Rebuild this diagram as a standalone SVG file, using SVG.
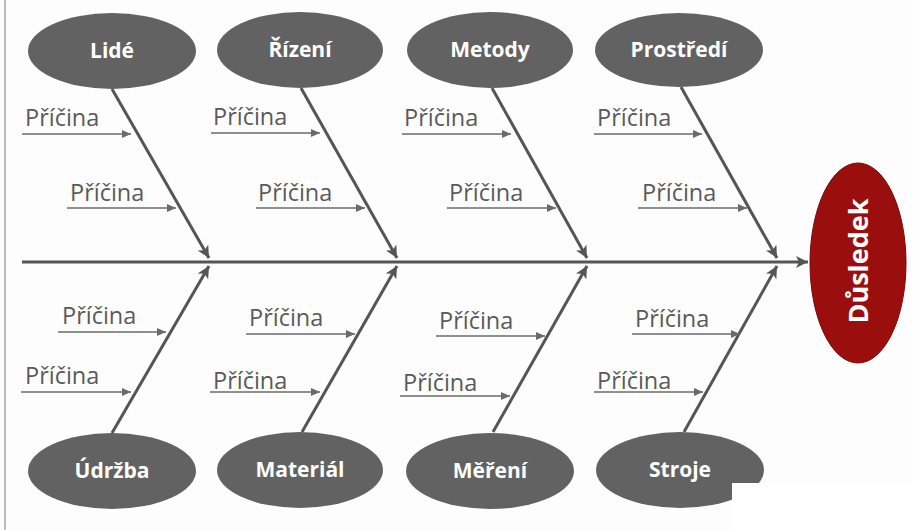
<svg xmlns="http://www.w3.org/2000/svg" width="913" height="530" viewBox="0 0 913 530">
  <defs>
    <style>
      .cat { fill: #626262; }
      .cat-label { fill: #ffffff; font-family: "Open Sans", "DejaVu Sans", sans-serif; font-weight: 700; font-size: 21px; text-anchor: middle; }
      .cause { fill: #5a5a5a; font-family: "Open Sans", "DejaVu Sans", sans-serif; font-size: 23.5px; }
      .bone { stroke: #555555; stroke-width: 3; fill: none; }
      .spine { stroke: #555555; stroke-width: 3; fill: none; }
      .twig { stroke: #6a6a6a; stroke-width: 1.5; fill: none; }
      .effect-label { fill: #ffffff; font-family: "Open Sans", "DejaVu Sans", sans-serif; font-weight: 700; font-size: 27px; text-anchor: middle; }
    </style>
    <marker id="head-bone" markerUnits="userSpaceOnUse" markerWidth="14" markerHeight="12" refX="12" refY="6" orient="auto">
      <path d="M0,0 L12,6 L0,12 L3,6 Z" fill="#555555"/>
    </marker>
    <marker id="head-twig" markerUnits="userSpaceOnUse" markerWidth="10" markerHeight="8" refX="9" refY="4" orient="auto">
      <path d="M0,0 L9,4 L0,8 Z" fill="#6a6a6a"/>
    </marker>
  </defs>

  <rect x="0" y="0" width="913" height="530" fill="#fdfdfd"/>
  <!-- left frame edge -->
  <line x1="5" y1="0" x2="5" y2="530" stroke="#bdbdbd" stroke-width="2"/>

  <!-- connectors: spine, bones and cause arrows -->
  <g id="connectors">
    <line class="spine" x1="22" y1="262" x2="808" y2="262" marker-end="url(#head-bone)"/>

    <line class="bone" x1="112" y1="89" x2="209" y2="258" marker-end="url(#head-bone)"/>
    <line class="bone" x1="301" y1="88" x2="397" y2="258" marker-end="url(#head-bone)"/>
    <line class="bone" x1="492" y1="88" x2="587" y2="258" marker-end="url(#head-bone)"/>
    <line class="bone" x1="681" y1="87" x2="777" y2="258" marker-end="url(#head-bone)"/>

    <line class="bone" x1="112" y1="433" x2="209" y2="266" marker-end="url(#head-bone)"/>
    <line class="bone" x1="302" y1="432" x2="397" y2="266" marker-end="url(#head-bone)"/>
    <line class="bone" x1="493" y1="432" x2="587" y2="266" marker-end="url(#head-bone)"/>
    <line class="bone" x1="684" y1="432" x2="777" y2="266" marker-end="url(#head-bone)"/>

    <!-- upper causes -->
    <line class="twig" x1="22" y1="134" x2="131" y2="134" marker-end="url(#head-twig)"/>
    <line class="twig" x1="67" y1="208" x2="176" y2="208" marker-end="url(#head-twig)"/>
    <line class="twig" x1="211" y1="133" x2="320" y2="133" marker-end="url(#head-twig)"/>
    <line class="twig" x1="256" y1="208" x2="365" y2="208" marker-end="url(#head-twig)"/>
    <line class="twig" x1="402" y1="134" x2="511" y2="134" marker-end="url(#head-twig)"/>
    <line class="twig" x1="447" y1="208" x2="556" y2="208" marker-end="url(#head-twig)"/>
    <line class="twig" x1="594" y1="134" x2="702" y2="134" marker-end="url(#head-twig)"/>
    <line class="twig" x1="638" y1="208" x2="747" y2="208" marker-end="url(#head-twig)"/>

    <!-- lower causes -->
    <line class="twig" x1="58" y1="332" x2="166" y2="332" marker-end="url(#head-twig)"/>
    <line class="twig" x1="21" y1="392" x2="131" y2="392" marker-end="url(#head-twig)"/>
    <line class="twig" x1="246" y1="334" x2="355" y2="334" marker-end="url(#head-twig)"/>
    <line class="twig" x1="210" y1="392" x2="320" y2="392" marker-end="url(#head-twig)"/>
    <line class="twig" x1="436" y1="336" x2="545" y2="336" marker-end="url(#head-twig)"/>
    <line class="twig" x1="400" y1="396" x2="510" y2="396" marker-end="url(#head-twig)"/>
    <line class="twig" x1="632" y1="334" x2="740" y2="334" marker-end="url(#head-twig)"/>
    <line class="twig" x1="594" y1="392" x2="703" y2="392" marker-end="url(#head-twig)"/>
  </g>

  <!-- cause labels -->
  <g id="causes">
    <text class="cause" x="25" y="126">Příčina</text>
    <text class="cause" x="70" y="201">Příčina</text>
    <text class="cause" x="213" y="125">Příčina</text>
    <text class="cause" x="258" y="201">Příčina</text>
    <text class="cause" x="404" y="126">Příčina</text>
    <text class="cause" x="449" y="201">Příčina</text>
    <text class="cause" x="597" y="126">Příčina</text>
    <text class="cause" x="642" y="201">Příčina</text>

    <text class="cause" x="62" y="324">Příčina</text>
    <text class="cause" x="25" y="384">Příčina</text>
    <text class="cause" x="249" y="326">Příčina</text>
    <text class="cause" x="213" y="389">Příčina</text>
    <text class="cause" x="439" y="329">Příčina</text>
    <text class="cause" x="403" y="391">Příčina</text>
    <text class="cause" x="635" y="327">Příčina</text>
    <text class="cause" x="597" y="389">Příčina</text>
  </g>

  <!-- category nodes -->
  <g id="node-lide">
    <ellipse class="cat" cx="112" cy="51" rx="84" ry="38"/>
    <text class="cat-label" x="112" y="58">Lidé</text>
  </g>
  <g id="node-rizeni">
    <ellipse class="cat" cx="300" cy="50" rx="83" ry="38"/>
    <text class="cat-label" x="300" y="57">Řízení</text>
  </g>
  <g id="node-metody">
    <ellipse class="cat" cx="490" cy="50" rx="83" ry="38"/>
    <text class="cat-label" x="490" y="57">Metody</text>
  </g>
  <g id="node-prostredi">
    <ellipse class="cat" cx="679" cy="50" rx="84" ry="37"/>
    <text class="cat-label" x="679" y="57">Prostředí</text>
  </g>

  <g id="node-udrzba">
    <ellipse class="cat" cx="112" cy="471" rx="84" ry="38"/>
    <text class="cat-label" x="112" y="478">Údržba</text>
  </g>
  <g id="node-material">
    <ellipse class="cat" cx="300" cy="470" rx="83" ry="38"/>
    <text class="cat-label" x="300" y="477">Materiál</text>
  </g>
  <g id="node-mereni">
    <ellipse class="cat" cx="490" cy="471" rx="84" ry="38"/>
    <text class="cat-label" x="490" y="478">Měření</text>
  </g>
  <g id="node-stroje">
    <ellipse class="cat" cx="680" cy="470" rx="84" ry="38"/>
    <text class="cat-label" x="680" y="477">Stroje</text>
  </g>

  <!-- effect node -->
  <g id="node-dusledek">
    <ellipse cx="858" cy="263" rx="48" ry="100" fill="#9a0e0e" stroke="#7a0a0a" stroke-width="1"/>
    <text class="effect-label" transform="translate(868 261) rotate(-90)">Důsledek</text>
  </g>

  <!-- blank patch over the lower right corner -->
  <rect x="732" y="483" width="181" height="47" fill="#ffffff"/>
</svg>
